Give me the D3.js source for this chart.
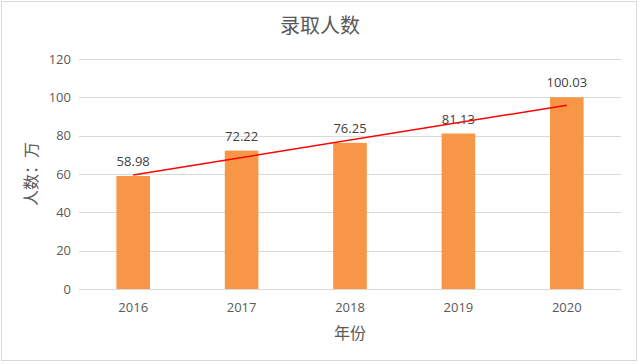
<!DOCTYPE html>
<html>
<head>
<meta charset="utf-8">
<script src="https://cdn.jsdelivr.net/npm/d3@7"></script>
<style>
  body { margin: 0; background: #fff; }
  svg text { font-family: "Open Sans", "Noto Sans CJK SC", sans-serif; }
</style>
</head>
<body>
<div id="chart"></div>
<script>
// Chart data
const years = ['2016', '2017', '2018', '2019', '2020'];
const admitted = [58.98, 72.22, 76.25, 81.13, 100.03];
const trendEnds = [59.5, 95.9]; // linear trend at first and last year
const yTicks = [0, 20, 40, 60, 80, 100, 120];

const width = 640;
const height = 364;
const margin = { top: 59, right: 19, bottom: 75, left: 79 };

const svg = d3
  .select('#chart')
  .append('svg')
  .attr('width', width)
  .attr('height', height);

// Outer border
svg
  .append('rect')
  .attr('x', 1.5)
  .attr('y', 1.5)
  .attr('width', width - 5)
  .attr('height', height - 5)
  .attr('fill', '#fff')
  .attr('stroke', '#d9d9d9');

const x = d3
  .scaleBand()
  .domain(years)
  .range([margin.left, width - margin.right])
  .paddingInner(0.69)
  .paddingOuter(0.345);

const y = d3
  .scaleLinear()
  .domain([0, 120])
  .range([height - margin.bottom, margin.top]);

// Gridlines
svg
  .append('g')
  .selectAll('line')
  .data(yTicks)
  .enter()
  .append('line')
  .attr('x1', margin.left)
  .attr('x2', width - margin.right)
  .attr('y1', (d) => Math.round(y(d)) + 0.5)
  .attr('y2', (d) => Math.round(y(d)) + 0.5)
  .attr('stroke', '#d9d9d9');

// Y axis labels
const yAxis = svg
  .append('g')
  .attr('transform', `translate(${margin.left - 8},0)`)
  .call(d3.axisLeft(y).tickValues(yTicks).tickSize(0).tickPadding(0));
yAxis.select('.domain').remove();
yAxis
  .selectAll('text')
  .attr('fill', '#595959')
  .style('font-size', '13px');

// Bars
svg
  .append('g')
  .selectAll('rect')
  .data(admitted)
  .enter()
  .append('rect')
  .attr('x', (d, i) => x(years[i]))
  .attr('y', (d) => y(d))
  .attr('width', x.bandwidth())
  .attr('height', (d) => y(0) - y(d))
  .attr('fill', '#f79646');

// X axis
const xAxis = svg
  .append('g')
  .attr('transform', `translate(0,${y(0)})`)
  .call(d3.axisBottom(x).tickSize(0).tickPadding(14));
xAxis.select('.domain').attr('stroke', '#d9d9d9');
xAxis
  .selectAll('text')
  .attr('fill', '#595959')
  .style('font-size', '13px');

// Data labels
svg
  .append('g')
  .selectAll('text')
  .data(admitted)
  .enter()
  .append('text')
  .attr('x', (d, i) => x(years[i]) + x.bandwidth() / 2)
  .attr('y', (d) => y(d) - 10)
  .attr('text-anchor', 'middle')
  .attr('fill', '#404040')
  .style('font-size', '13px')
  .text((d) => d.toFixed(2));

// Trend line
const cx = (yr) => x(yr) + x.bandwidth() / 2;
svg
  .append('line')
  .attr('x1', cx(years[0]))
  .attr('y1', y(trendEnds[0]))
  .attr('x2', cx(years[years.length - 1]))
  .attr('y2', y(trendEnds[1]))
  .attr('stroke', '#ff0000')
  .attr('stroke-width', 1.5);

// Title
svg
  .append('text')
  .attr('x', width / 2)
  .attr('y', 33)
  .attr('text-anchor', 'middle')
  .attr('fill', '#595959')
  .style('font-size', '20px')
  .style('font-family', '"Noto Sans CJK SC", sans-serif')
  .text('录取人数');

// Axis titles
svg
  .append('text')
  .attr('x', (margin.left + width - margin.right) / 2)
  .attr('y', 339)
  .attr('text-anchor', 'middle')
  .attr('fill', '#595959')
  .style('font-size', '16px')
  .style('font-family', '"Noto Sans CJK SC", sans-serif')
  .text('年份');

svg
  .append('text')
  .attr('transform', `translate(37,${(y(0) + y(120)) / 2}) rotate(-90)`)
  .attr('text-anchor', 'middle')
  .attr('fill', '#595959')
  .style('font-size', '16px')
  .style('font-family', '"Noto Sans CJK SC", sans-serif')
  .text('人数：万');
</script>
</body>
</html>
